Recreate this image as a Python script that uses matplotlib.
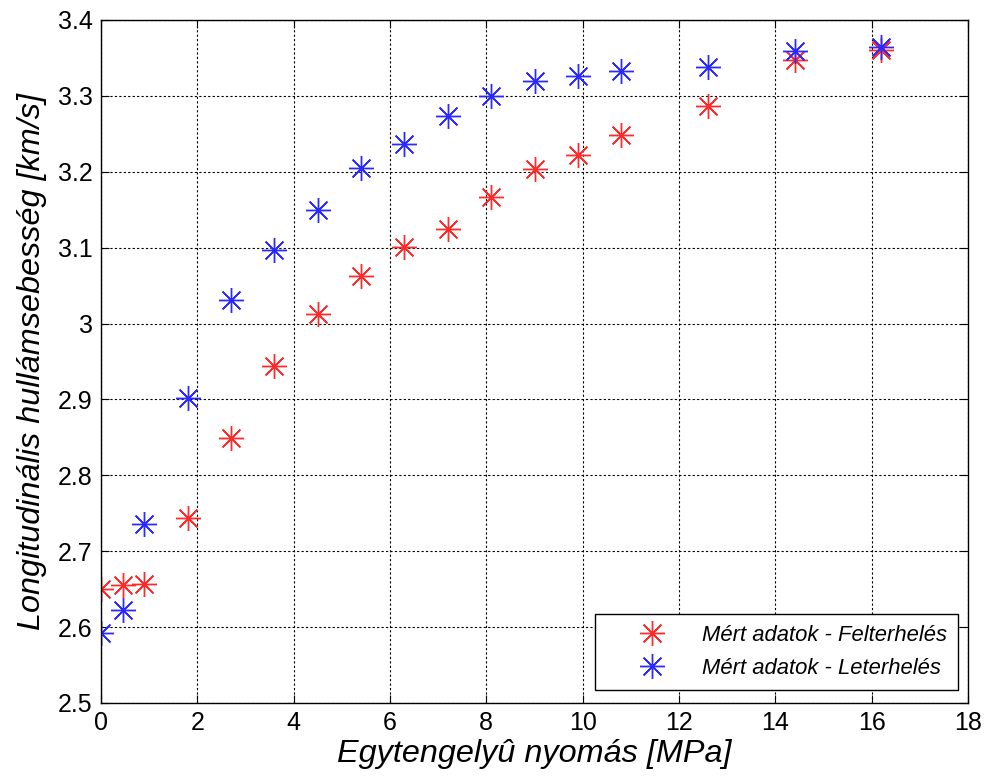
import numpy as np
import matplotlib
matplotlib.use("Agg")
import matplotlib.pyplot as plt
from matplotlib.ticker import FormatStrFormatter

plt.rcParams['font.family'] = ['Liberation Sans', 'DejaVu Sans']

# uniaxial pressure [MPa]
pressure = [0, 0.45, 0.9, 1.8, 2.7, 3.6, 4.5, 5.4, 6.3, 7.2, 8.1, 9.0, 9.9, 10.8, 12.6, 14.4, 16.2]
# loading / unloading velocities [km/s]
v_load = [2.650, 2.655, 2.657, 2.744, 2.849, 2.944, 3.012, 3.062, 3.101, 3.125, 3.167,
          3.204, 3.222, 3.249, 3.286, 3.347, 3.361]
v_unload = [2.592, 2.623, 2.736, 2.902, 3.031, 3.097, 3.149, 3.205, 3.236, 3.273, 3.300,
            3.320, 3.326, 3.333, 3.338, 3.359, 3.364]

fig = plt.figure(figsize=(9.88, 7.83), dpi=100)
ax = fig.add_axes([0.1022, 0.1022, 0.8776, 0.8723])

asterisk = (8, 2, 0)
ax.plot(pressure, v_load, linestyle='none', marker=asterisk, ms=18, mew=1.0,
        color='#ff2a2a', label='Mért adatok - Felterhelés')
ax.plot(pressure, v_unload, linestyle='none', marker=asterisk, ms=18, mew=1.0,
        color='#2a2aff', label='Mért adatok - Leterhelés')

ax.set_xlim(0, 18)
ax.set_ylim(2.5, 3.4)
ax.set_xticks(np.arange(0, 19, 2))
ax.set_yticks(np.arange(2.5, 3.41, 0.1))
ax.yaxis.set_major_formatter(FormatStrFormatter('%g'))
ax.grid(True, linestyle=(0, (2, 2)), color='black', linewidth=0.8)
ax.tick_params(direction='in', length=6, top=True, right=True, labelsize=18, pad=6)
for s in ax.spines.values():
    s.set_linewidth(1.0)

ax.set_xlabel('Egytengelyû nyomás [MPa]', fontsize=23.3, style='italic', labelpad=3)
ax.set_ylabel('Longitudinális hullámsebesség [km/s]', fontsize=23.3, style='italic', labelpad=8)

leg = ax.legend(loc='lower right', bbox_to_anchor=(0.9885, 0.019), borderaxespad=0,
                prop={'style': 'italic', 'size': 15.8}, fancybox=False, edgecolor='black',
                framealpha=1, handlelength=4.2, handletextpad=0.2, borderpad=0.5,
                labelspacing=0.55)
leg.get_frame().set_linewidth(1.0)

fig.savefig('out.png', dpi=100)
